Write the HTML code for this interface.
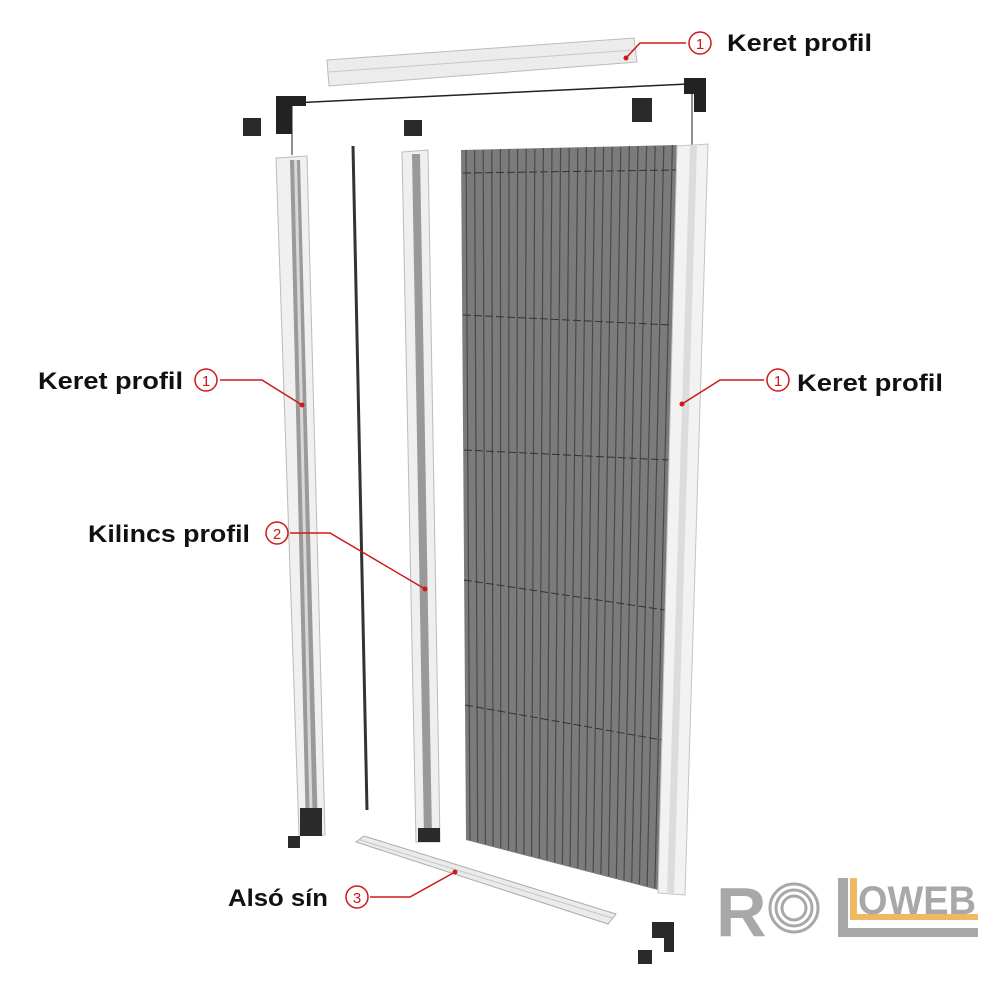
<!DOCTYPE html>
<html><head><meta charset="utf-8"><style>
html,body{margin:0;padding:0;background:#fff;}
svg{display:block;}
text{font-family:"Liberation Sans",sans-serif;}
</style></head><body>
<svg width="1000" height="1000" viewBox="0 0 1000 1000" xmlns="http://www.w3.org/2000/svg">
<polygon points="327,60 634,38 637,62 329,86" fill="#ececec" stroke="#bbb"/>
<line x1="329" y1="72" x2="634" y2="50" stroke="#c8c8c8"/>
<line x1="292" y1="103" x2="688" y2="84" stroke="#222" stroke-width="1.5"/>
<line x1="292" y1="103" x2="292" y2="155" stroke="#222"/>
<line x1="692" y1="84" x2="692" y2="145" stroke="#222"/>
<path d="M276,96 h30 v10 h-14 v28 h-16z" fill="#222"/>
<path d="M684,78 h22 v34 h-12 v-18 h-10z" fill="#222"/>
<rect x="243" y="118" width="18" height="18" fill="#2a2a2a"/>
<rect x="632" y="98" width="20" height="24" fill="#2a2a2a"/>
<rect x="404" y="120" width="18" height="16" fill="#2a2a2a"/>
<polygon points="276,158 307,156 325,835 299,835" fill="#f0f0f0" stroke="#bbb"/>
<polygon points="290,160 300,160 318,832 306,832" fill="#9a9a9a"/>
<polygon points="294,160 297,160 313,832 310,832" fill="#d8d8d8"/>
<line x1="353" y1="146" x2="367" y2="810" stroke="#333" stroke-width="3"/>
<polygon points="402,152 428,150 440,842 416,842" fill="#efefef" stroke="#bbb"/>
<polygon points="412,154 420,154 432,838 424,838" fill="#999"/>
<polygon points="461,150 677,145 658,890 466,840" fill="#7b7b7b"/>
<g stroke="#4a4a4a" stroke-width="1.2">
<line x1="466" y1="150" x2="470" y2="840"/><line x1="474.6" y1="150" x2="477.7" y2="842"/><line x1="483.2" y1="150" x2="485.4" y2="844"/><line x1="491.8" y1="150" x2="493.1" y2="846"/><line x1="500.4" y1="149" x2="500.8" y2="848"/><line x1="509" y1="149" x2="508.5" y2="850"/><line x1="517.6" y1="149" x2="516.2" y2="852"/><line x1="526.2" y1="149" x2="523.9" y2="854"/><line x1="534.8" y1="149" x2="531.6" y2="856"/><line x1="543.4" y1="148" x2="539.3" y2="858"/><line x1="552" y1="148" x2="547" y2="860"/><line x1="560.6" y1="148" x2="554.7" y2="862"/><line x1="569.2" y1="148" x2="562.4" y2="864"/><line x1="577.8" y1="148" x2="570.1" y2="866"/><line x1="586.4" y1="147" x2="577.8" y2="868"/><line x1="595" y1="147" x2="585.5" y2="870"/><line x1="603.6" y1="147" x2="593.2" y2="872"/><line x1="612.2" y1="147" x2="600.9" y2="874"/><line x1="620.8" y1="147" x2="608.6" y2="876"/><line x1="629.4" y1="146" x2="616.3" y2="878"/><line x1="638" y1="146" x2="624" y2="880"/><line x1="646.6" y1="146" x2="631.7" y2="882"/><line x1="655.2" y1="146" x2="639.4" y2="884"/><line x1="663.8" y1="146" x2="647.1" y2="886"/><line x1="672.4" y1="145" x2="654.8" y2="888"/>
</g>
<g stroke="#333" stroke-width="1" stroke-dasharray="8,3" fill="none">
<line x1="463" y1="173" x2="676" y2="170"/>
<line x1="463" y1="315" x2="672" y2="325"/>
<line x1="464" y1="450" x2="669" y2="460"/>
<line x1="464" y1="580" x2="665" y2="610"/>
<line x1="465" y1="705" x2="662" y2="740"/>
</g>
<polygon points="677,146 708,144 685,895 658,893" fill="#f2f2f2" stroke="#c4c4c4"/>
<polygon points="690,146 697,146 674,894 667,894" fill="#dcdcdc"/>
<rect x="300" y="808" width="22" height="28" fill="#2a2a2a"/>
<rect x="288" y="836" width="12" height="12" fill="#2a2a2a"/>
<rect x="418" y="828" width="22" height="14" fill="#2a2a2a"/>
<path d="M652,922 h22 v30 h-10 v-14 h-12z" fill="#2a2a2a"/>
<rect x="638" y="950" width="14" height="14" fill="#2a2a2a"/>
<polygon points="356,842 364,836 616,914 608,924" fill="#ebebeb" stroke="#aaa"/>
<line x1="360" y1="840" x2="612" y2="918" stroke="#c6c6c6"/>
<g stroke="#d01818" stroke-width="1.5" fill="none">
<polyline points="686,43 640,43 626,58"/>
<polyline points="220,380 262,380 302,405"/>
<polyline points="764,380 720,380 682,404"/>
<polyline points="290,533 330,533 425,589"/>
<polyline points="370,897 410,897 455,872"/>
<circle cx="700" cy="43" r="11"/>
<circle cx="206" cy="380" r="11"/>
<circle cx="778" cy="380" r="11"/>
<circle cx="277" cy="533" r="11"/>
<circle cx="357" cy="897" r="11"/>
</g>
<g fill="#d01818"><circle cx="626" cy="58" r="2.5"/><circle cx="302" cy="405" r="2.5"/><circle cx="682" cy="404" r="2.5"/><circle cx="425" cy="589" r="2.5"/><circle cx="455" cy="872" r="2.5"/></g>
<g fill="#d01818" font-size="15" text-anchor="middle">
<text x="700" y="49">1</text><text x="206" y="386">1</text><text x="778" y="386">1</text><text x="277" y="539">2</text><text x="357" y="903">3</text>
</g>
<g fill="#111" font-size="24" font-weight="bold">
<text x="727" y="51" textLength="145" lengthAdjust="spacingAndGlyphs">Keret profil</text>
<text x="38" y="389" textLength="145" lengthAdjust="spacingAndGlyphs">Keret profil</text>
<text x="797" y="391" textLength="146" lengthAdjust="spacingAndGlyphs">Keret profil</text>
<text x="88" y="542" textLength="162" lengthAdjust="spacingAndGlyphs">Kilincs profil</text>
<text x="228" y="906" textLength="100" lengthAdjust="spacingAndGlyphs">Alsó sín</text>
</g>
<text x="716" y="936" font-size="70" font-weight="bold" fill="#a8a8a8">R</text>
<g fill="none" stroke="#a8a8a8" stroke-width="3">
<circle cx="794" cy="908" r="24"/><circle cx="794" cy="908" r="18"/><circle cx="794" cy="908" r="12"/>
</g>
<path d="M838,878 h10 v50 h130 v9 h-140z" fill="#a8a8a8"/>
<path d="M850,878 h7 v36 h121 v6 h-128z" fill="#f0b860"/>
<text x="858" y="914" font-size="40" font-weight="bold" fill="#a8a8a8" textLength="118" lengthAdjust="spacingAndGlyphs">OWEB</text>
</svg>
</body></html>
